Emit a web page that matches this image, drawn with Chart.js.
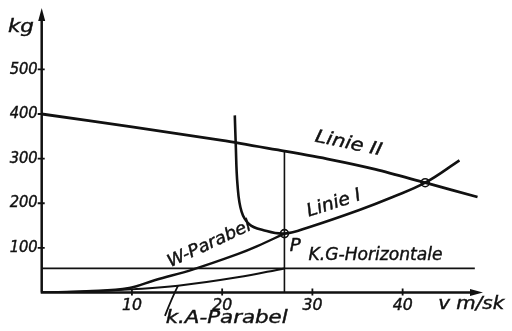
<!DOCTYPE html>
<html>
<head>
<meta charset="utf-8">
<script src="https://cdn.jsdelivr.net/npm/chart.js@4"></script>
<style>
  body { margin: 0; background: #fff; }
  canvas { display: block; }
</style>
</head>
<body>
<canvas id="myChart" width="512" height="331"></canvas>
<script>
// values: v in m/sk, weight in kg
var xTicks = [10, 20, 30, 40];
var yTicks = [100, 200, 300, 400, 500];

var linie2V  = [0, 10, 20, 26, 32, 37, 42.5, 48.3];
var linie2Kg = [400, 371, 341, 320, 298, 276, 246, 214];

var linie1V  = [21.4, 21.5, 21.7, 22.15, 23.0, 24.5, 26.9, 29.7, 35.2, 38.9, 42.5, 46.3];
var linie1Kg = [397, 335, 241, 181, 153, 140, 132, 147, 185, 214, 246, 296];

var wParV  = [0, 5, 9.7, 12.6, 16.8, 21.7, 23.9, 26.9];
var wParKg = [0, 3, 10, 28, 52, 86, 104, 132];

var kaParV  = [0, 5, 10, 15.1, 21.7, 26.9];
var kaParKg = [0, 2, 7, 15, 34, 54];

var kgHorizV  = [0, 48];
var kgHorizKg = [54, 54];

var vertV  = [26.9, 26.9];
var vertKg = [0, 318];

var circleV  = [26.9, 42.5];
var circleKg = [132, 246];

function pts(xs, ys) {
  return xs.map(function(x, i) { return {x: x, y: ys[i]}; });
}

var ink = '#111';
var hand = '"DejaVu Sans Condensed", "DejaVu Sans", sans-serif';

// text drawn in drawing coordinates, squeezed to the width seen in the scan
function label(ctx, chart, txt, v, kg, angle, size, width) {
  var xs = chart.scales.x, ys = chart.scales.y;
  var px = xs.getPixelForValue(v), py = ys.getPixelForValue(kg);
  ctx.save();
  ctx.font = 'italic ' + size + 'px ' + hand;
  ctx.fillStyle = ink;
  ctx.strokeStyle = ink;
  ctx.lineWidth = 0.4;
  ctx.textAlign = 'center';
  ctx.textBaseline = 'middle';
  ctx.translate(px, py);
  ctx.rotate(angle * Math.PI / 180);
  if (width) {
    var m = ctx.measureText(txt).width;
    ctx.scale(width / m, 1);
  }
  ctx.fillText(txt, 0, 0);
  ctx.strokeText(txt, 0, 0);
  ctx.restore();
}

var axesPlugin = {
  id: 'handAxes',
  afterDatasetsDraw: function(chart) {
    var ctx = chart.ctx;
    var xs = chart.scales.x, ys = chart.scales.y;
    var x0 = xs.getPixelForValue(0), y0 = ys.getPixelForValue(0);
    var yTop = 8, xEnd = 483;
    ctx.save();
    ctx.strokeStyle = ink;
    ctx.fillStyle = ink;
    ctx.lineWidth = 2.5;
    ctx.beginPath();
    ctx.moveTo(x0, y0);
    ctx.lineTo(x0, yTop + 8);
    ctx.moveTo(x0 - 1, y0);
    ctx.lineTo(xEnd - 8, y0);
    ctx.stroke();
    // arrow heads
    ctx.beginPath();
    ctx.moveTo(x0, yTop);
    ctx.lineTo(x0 - 3.5, yTop + 13);
    ctx.lineTo(x0 + 3.5, yTop + 13);
    ctx.closePath();
    ctx.fill();
    ctx.beginPath();
    ctx.moveTo(xEnd, y0);
    ctx.lineTo(xEnd - 13, y0 - 3.5);
    ctx.lineTo(xEnd - 13, y0 + 3.5);
    ctx.closePath();
    ctx.fill();

    ctx.lineWidth = 1.8;
    ctx.beginPath();
    yTicks.forEach(function(t) {
      var py = ys.getPixelForValue(t);
      ctx.moveTo(x0 - 4, py);
      ctx.lineTo(x0 + 3, py);
    });
    xTicks.forEach(function(t) {
      var px = xs.getPixelForValue(t);
      ctx.moveTo(px, y0 - 4);
      ctx.lineTo(px, y0 + 3);
    });
    // leader from the K.A curve to its caption
    var lx = xs.getPixelForValue(15.1), ly = ys.getPixelForValue(15);
    ctx.moveTo(lx, ly);
    ctx.quadraticCurveTo(lx - 6, ly + 12, lx - 13, ly + 30);
    ctx.stroke();
    ctx.restore();

    yTicks.forEach(function(t) {
      label(ctx, chart, String(t), -2.0, t, 0, 16, 28);
    });
    xTicks.forEach(function(t) {
      label(ctx, chart, String(t), t, -31, 0, 16, 20);
    });

    label(ctx, chart, 'kg', -2.3, 594, 0, 18, 26);
    label(ctx, chart, 'Linie II', 34.0, 333, 12, 18, 68);
    label(ctx, chart, 'Linie I', 32.4, 199, -18, 18, 56);
    label(ctx, chart, 'W-Parabel', 18.6, 108, -25, 17, 90);
    label(ctx, chart, 'P', 28.1, 103, 0, 17, 11);
    label(ctx, chart, 'K.G-Horizontale', 37.0, 84, 0, 18, 134);
    label(ctx, chart, 'k.A-Parabel', 20.5, -57, 0, 18, 122);
    label(ctx, chart, 'v m/sk', 47.6, -26, 0, 18, 66);
  }
};

var ctx = document.getElementById('myChart').getContext('2d');
var chart = new Chart(ctx, {
  type: 'scatter',
  data: {
    datasets: [
      { data: pts(linie2V, linie2Kg), showLine: true, borderColor: ink, borderWidth: 2.8, pointRadius: 0, tension: 0.3 },
      { data: pts(linie1V, linie1Kg), showLine: true, borderColor: ink, borderWidth: 2.6, pointRadius: 0, tension: 0.4 },
      { data: pts(wParV, wParKg), showLine: true, borderColor: ink, borderWidth: 2.4, pointRadius: 0, tension: 0.4 },
      { data: pts(kaParV, kaParKg), showLine: true, borderColor: ink, borderWidth: 2, pointRadius: 0, tension: 0.4 },
      { data: pts(kgHorizV, kgHorizKg), showLine: true, borderColor: ink, borderWidth: 1.6, pointRadius: 0 },
      { data: pts(vertV, vertKg), showLine: true, borderColor: ink, borderWidth: 1.6, pointRadius: 0 },
      { data: pts(circleV, circleKg), showLine: false, borderColor: ink, backgroundColor: '#fff', borderWidth: 1.6, pointRadius: 4 }
    ]
  },
  options: {
    responsive: false,
    animation: false,
    devicePixelRatio: 1,
    layout: { padding: { left: 41.7, right: 0, top: 0, bottom: 38.5 } },
    scales: {
      x: { type: 'linear', display: false, min: 0, max: 51.5 },
      y: { type: 'linear', display: false, min: 0, max: 642.9 }
    },
    plugins: {
      legend: { display: false },
      tooltip: { enabled: false }
    }
  },
  plugins: [axesPlugin]
});
</script>
</body>
</html>
